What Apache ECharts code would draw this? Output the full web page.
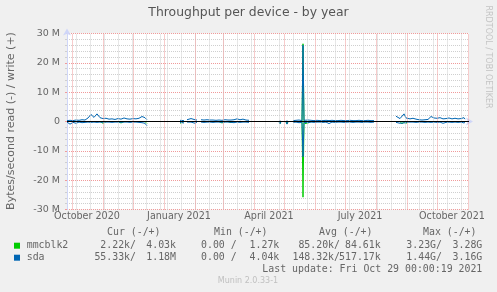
<!DOCTYPE html>
<html><head><meta charset="utf-8">
<script src="https://cdn.jsdelivr.net/npm/echarts@6/dist/echarts.min.js"></script>
<style>html,body{margin:0;padding:0;background:#f0f0f0}#c{width:497px;height:292px}</style>
</head><body><div id="c"></div>
<script>
// ---- data (values in M bytes/s; read plotted negative) ----
const dates = [
 '2020-09-26','2020-09-29','2020-10-02','2020-10-05','2020-10-08','2020-10-11','2020-10-14','2020-10-17','2020-10-20','2020-10-23','2020-10-26','2020-10-29','2020-11-01','2020-11-04','2020-11-07','2020-11-10','2020-11-13','2020-11-16','2020-11-19','2020-11-22','2020-11-25','2020-11-28','2020-12-01','2020-12-04','2020-12-07','2020-12-10','2020-12-13','2020-12-15','2020-12-16',
 '2021-01-17','2021-01-19','2021-01-21','2021-01-22','2021-01-24','2021-01-26','2021-01-28','2021-01-30','2021-02-01','2021-02-03','2021-02-05','2021-02-07','2021-02-10','2021-02-13','2021-02-16','2021-02-19','2021-02-22','2021-02-25','2021-02-28','2021-03-03','2021-03-06','2021-03-09','2021-03-12','2021-03-15','2021-03-18','2021-03-21','2021-03-24','2021-03-27','2021-03-28',
 '2021-04-26','2021-04-27','2021-04-28','2021-04-29','2021-05-03','2021-05-04','2021-05-05','2021-05-06',
 '2021-05-10','2021-05-13','2021-05-16','2021-05-18','2021-05-19','2021-05-20','2021-05-21','2021-05-22','2021-05-25','2021-05-28','2021-05-31','2021-06-03','2021-06-06','2021-06-09','2021-06-12','2021-06-15','2021-06-18','2021-06-21','2021-06-24','2021-06-27','2021-06-30','2021-07-03','2021-07-06','2021-07-09','2021-07-12','2021-07-15','2021-07-18','2021-07-21','2021-07-24','2021-07-27','2021-07-30','2021-08-01',
 '2021-08-21','2021-08-23','2021-08-25','2021-08-27','2021-08-29','2021-08-31','2021-09-02','2021-09-04','2021-09-07','2021-09-10','2021-09-13','2021-09-16','2021-09-19','2021-09-22','2021-09-25','2021-09-28','2021-10-01','2021-10-04','2021-10-07','2021-10-10','2021-10-13','2021-10-16','2021-10-19','2021-10-22','2021-10-25','2021-10-28','2021-10-29'
];
const mmcblk2Write = [
 0,0,0,0,0,0,0,0,0,0,0,0,0,0,0,0,0,0,0,0,0,0,0,0,0,0,0,0,null,
 0,0,0,null,0,0,0,0,0,0,null,0,0,0,0,0,0,0,0,0,0,0,0,0,0,0,0,0,null,
 0,0,0,null,0,0,0,null,
 0,0,0,0,0,26.5,0,0.2,0,0,0,0,0,0,0,0,0,0,0,0,0,0,0,0,0,0,0,0,0,0,0,null,
 0,0,0,0,0,0,0,0,0,0,0,0,0,0,0,0,0,0,0,0,0,0,0,0,0,0,0
];
const mmcblk2Read = [
 0,0,0,0,0,0,0,0,0,0,0,0,-0.6,0,0,0,0,0,-0.5,0,0,0,0,0,0,0,0,-0.7,null,
 -0.6,0,0,null,0,-0.4,0,0,0,0,null,0,0,0,0,0,0,0,-0.5,0,0,-0.4,0,0,0,0,0,0,null,
 0,-0.7,0,null,0,-0.8,0,null,
 0,0,0,0,0,-25.8,0,-0.7,-0.5,0,0,0,0,0,0,0,0,0,0,0,0,0,0,0,0,0,0,0,0,0,0,null,
 0,0,0,-0.8,0,-0.7,0,0,0,0,0,0,0,0,0,0,0,0,0,0,0,0,0,0,0,0,0
];
const sdaWrite = [
 0.3,0.4,0.3,0.5,0.4,0.6,0.5,1.2,2.4,1.4,2.6,1.3,1.0,1.1,0.8,0.9,0.7,1.0,0.8,1.2,0.9,0.8,1.0,0.9,1.1,1.7,1.3,0.6,null,
 0.4,0.5,0.3,null,0.6,1.1,1.0,1.1,0.6,0.5,null,0.6,0.5,0.6,0.5,0.5,0.4,0.5,0.4,0.6,0.5,0.5,0.6,0.9,0.6,0.8,0.5,0.4,null,
 0.1,0.3,0.1,null,0.1,0.4,0.1,null,
 0.3,0.4,0.5,0.3,0.3,26.0,0.4,0.8,0.5,0.4,0.3,0.4,0.3,0.3,0.4,0.3,0.4,0.3,0.3,0.4,0.3,0.3,0.4,0.3,0.3,0.4,0.3,0.3,0.4,0.3,0.3,null,
 1.8,2.2,1.0,1.6,2.6,1.2,1.4,0.9,1.1,0.8,0.6,0.5,0.6,0.7,1.7,1.2,1.1,1.3,0.9,1.0,1.2,0.9,1.1,0.9,1.0,1.3,0.8
];
const sdaRead = [
 -0.2,-0.9,-0.3,-0.6,-0.2,-0.4,-0.3,-0.2,-0.3,-0.2,-0.3,-0.2,-0.3,-0.2,-0.2,-0.3,-0.2,-0.2,-0.3,-0.2,-0.2,-0.3,-0.2,-0.2,-0.3,-0.4,-0.6,-1.5,null,
 -0.3,-0.2,-0.5,null,-0.2,-0.3,-0.2,-0.3,-0.6,-0.2,null,-0.2,-0.3,-0.2,-0.2,-0.3,-0.2,-0.2,-0.3,-0.2,-0.2,-0.3,-0.4,-0.2,-0.3,-0.2,-0.2,-0.3,null,
 -0.1,-0.8,-0.1,null,-0.1,-0.9,-0.1,null,
 -0.3,-0.2,-0.4,-0.2,-0.3,-12.0,-0.3,-0.6,-0.4,-0.2,-0.3,-0.2,-0.2,-0.3,-0.2,-0.7,-0.2,-0.3,-0.2,-0.2,-0.3,-0.2,-0.2,-0.3,-0.2,-0.2,-0.3,-0.2,-0.2,-0.3,-0.2,null,
 -0.3,-0.2,-0.6,-0.3,-0.5,-0.3,-0.2,-0.3,-0.2,-0.3,-0.2,-0.2,-0.3,-0.2,-0.3,-0.2,-0.3,-0.2,-0.6,-0.3,-0.2,-0.3,-0.2,-0.3,-0.2,-0.5,-0.3
];
const yTickValues = [-30, -20, -10, 0, 10, 20, 30];
const xLabelDates = ['2020-10-16', '2021-01-16', '2021-04-16', '2021-07-16', '2021-10-16'];
const xLabelTexts = ['October 2020', 'January 2021', 'April 2021', 'July 2021', 'October 2021'];
const legendHeaders = ['Cur (-/+)', 'Min (-/+)', 'Avg (-/+)', 'Max (-/+)'];
const legendNames = ['mmcblk2', 'sda'];
const legendStats = [
  ['2.22k/', '4.03k', '0.00 /', '1.27k', '85.20k/', '84.61k', '3.23G/', '3.28G'],
  ['55.33k/', '1.18M', '0.00 /', '4.04k', '148.32k/', '517.17k', '1.44G/', '3.16G']
];
const lastUpdate = 'Last update: Fri Oct 29 00:00:19 2021';

// ---- styling ----
const GREEN = '#00cc00', BLUE = '#0066b3';
const RED = '#f09a9a', GRAY = '#cfcfcf', FONT = '#666666', AXIS = '#CFD6F8';
const MONO = '"DejaVu Sans Mono", monospace';
const SANS = '"DejaVu Sans", sans-serif';
const DAY = 86400000;
const T = s => { const p = s.split('-').map(Number); return new Date(p[0], p[1] - 1, p[2]).getTime(); };
const pairs = arr => dates.map((d, i) => [T(d), arr[i]]);
const X_MIN = T('2020-09-26'), X_MAX = T('2021-11-02');

const redLines = [], grayLines = [];
for (let m = 9; m <= 22; m++) redLines.push(new Date(2020, m, 1).getTime() + DAY / 2);
for (let t = T('2020-10-05'); t <= T('2020-12-28'); t += 14 * DAY) grayLines.push(t + DAY / 2);
for (let t = T('2021-01-04'); t < X_MAX; t += 14 * DAY) grayLines.push(t + DAY / 2);

const xLabelTs = xLabelDates.map(T);
const chart = echarts.init(document.getElementById('c'));
const lineBase = { type: 'line', showSymbol: false, symbol: 'none', connectNulls: false, silent: true, animation: false, lineStyle: { width: 1 } };

const headerX = [107, 214, 319, 423];
const colRight = [136, 176, 236.7, 279.3, 340, 380.7, 442, 482.3];
const rowY = [245.7, 257.7];
const graphics = [];
graphics.push({ type: 'text', x: 248.5, y: 13, style: { text: 'Throughput per device - by year', fill: '#555', font: '12.4px ' + SANS, align: 'center', verticalAlign: 'middle' } });
graphics.push({ type: 'text', x: 11, y: 121, rotation: Math.PI / 2, style: { text: 'Bytes/second read (-) / write (+)', fill: FONT, font: '11px ' + SANS, align: 'center', verticalAlign: 'middle' } });
graphics.push({ type: 'text', x: 488.5, y: 57, rotation: -Math.PI / 2, style: { text: 'RRDTOOL / TOBI OETIKER', fill: '#c4c4c4', font: '8px ' + SANS, align: 'center', verticalAlign: 'middle' } });
legendHeaders.forEach((h, i) => graphics.push({ type: 'text', x: headerX[i], y: 232.7, style: { text: h, fill: FONT, font: '9.9px ' + MONO, align: 'left', verticalAlign: 'middle' } }));
[GREEN, BLUE].forEach((c, r) => {
  graphics.push({ type: 'rect', shape: { x: 14, y: rowY[r] - 3, width: 6, height: 6 }, style: { fill: c } });
  graphics.push({ type: 'text', x: 26.7, y: rowY[r], style: { text: legendNames[r], fill: FONT, font: '9.9px ' + MONO, align: 'left', verticalAlign: 'middle' } });
  legendStats[r].forEach((s, i) => graphics.push({ type: 'text', x: colRight[i], y: rowY[r], style: { text: s, fill: FONT, font: '9.9px ' + MONO, align: 'right', verticalAlign: 'middle' } }));
});
graphics.push({ type: 'text', x: 482.3, y: 269.3, style: { text: lastUpdate, fill: FONT, font: '9.9px ' + MONO, align: 'right', verticalAlign: 'middle' } });
graphics.push({ type: 'text', x: 248, y: 281, style: { text: 'Munin 2.0.33-1', fill: '#c0c0c0', font: '8px ' + SANS, align: 'center', verticalAlign: 'middle' } });

chart.setOption({
  backgroundColor: '#f0f0f0',
  animation: false,
  grid: { left: 67, right: 28, top: 33.5, bottom: 82.5, show: true, backgroundColor: '#ffffff', borderWidth: 0 },
  xAxis: [{
    type: 'time', min: X_MIN, max: X_MAX,
    splitLine: { show: false },
    axisTick: { show: false },
    axisLabel: { show: false },
    axisLine: { show: true, lineStyle: { color: AXIS, width: 1 }, symbol: ['none', 'arrow'], symbolSize: [6, 7], symbolOffset: [0, 4] }
  }, {
    type: 'value', min: X_MIN, max: X_MAX, position: 'bottom',
    splitLine: { show: false }, axisTick: { show: false }, axisLine: { show: false },
    axisLabel: {
      customValues: xLabelTs, color: FONT, fontSize: 9.6, fontFamily: SANS, margin: 2, showMinLabel: true, showMaxLabel: true,
      formatter: v => { let bi = 0; xLabelTs.forEach((t, i) => { if (Math.abs(t - v) < Math.abs(xLabelTs[bi] - v)) bi = i; }); return xLabelTexts[bi]; }
    }
  }],
  yAxis: {
    type: 'value', min: yTickValues[0], max: yTickValues[yTickValues.length - 1], interval: 10,
    axisLine: { show: true, lineStyle: { color: AXIS, width: 1 }, symbol: ['none', 'arrow'], symbolSize: [6, 7], symbolOffset: [0, 5] },
    axisTick: { show: true, length: 2, lineStyle: { color: RED } },
    minorTick: { show: true, splitNumber: 5, length: 2, lineStyle: { color: GRAY } },
    splitLine: { show: true, lineStyle: { color: RED, type: [1, 1], width: 1 } },
    minorSplitLine: { show: true, lineStyle: { color: GRAY, type: [1, 1], width: 1 } },
    axisLabel: { color: FONT, fontSize: 9.5, fontFamily: SANS, margin: 7, formatter: v => v === 0 ? '0' : v + ' M' }
  },
  graphic: graphics,
  series: [
    { type: 'line', data: [], silent: true, z: 1, animation: false,
      markLine: { silent: true, symbol: 'none', animation: false, label: { show: false },
        lineStyle: { type: [1, 1], width: 1 },
        data: grayLines.map(v => ({ xAxis: v, lineStyle: { color: GRAY, type: [1, 1] } }))
          .concat(redLines.map(v => ({ xAxis: v, lineStyle: { color: RED, type: [1, 1] } }))) } },
    Object.assign({}, lineBase, { name: 'mmcblk2 write', data: pairs(mmcblk2Write), color: GREEN, lineStyle: { width: 1, color: GREEN } }),
    Object.assign({}, lineBase, { name: 'mmcblk2 read', data: pairs(mmcblk2Read), color: GREEN, lineStyle: { width: 1, color: GREEN } }),
    Object.assign({}, lineBase, { name: 'sda write', data: pairs(sdaWrite), color: BLUE, lineStyle: { width: 1, color: BLUE } }),
    Object.assign({}, lineBase, { name: 'sda read', data: pairs(sdaRead), color: BLUE, lineStyle: { width: 1, color: BLUE }, z: 3,
      markLine: { silent: true, symbol: 'none', animation: false, label: { show: false }, lineStyle: { color: '#000', type: 'solid', width: 1 }, data: [{ yAxis: 0 }] } })
  ]
});
</script></body></html>
